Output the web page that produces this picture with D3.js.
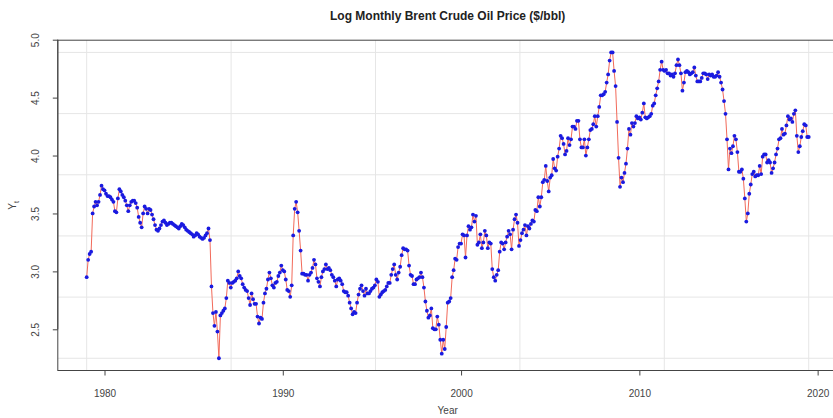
<!DOCTYPE html>
<html>
<head>
<meta charset="utf-8">
<script src="https://cdn.jsdelivr.net/npm/d3@7"></script>
<style>
  body { margin: 0; background: #fff; }
  text { font-family: "Liberation Sans", Arial, sans-serif; }
</style>
</head>
<body>
<svg id="chart" width="833" height="418"></svg>
<script>
// log of monthly Brent price, Jan 1979 onwards
var startYear = 1979;
var logPrice1979 = [
  2.95, 3.10, 3.15, 3.17, 3.50, 3.56, 3.60, 3.57, 3.60, 3.66, 3.74, 3.71,
  3.70, 3.67, 3.65, 3.65, 3.64, 3.62, 3.60, 3.52, 3.51, 3.63, 3.71, 3.69,
  3.66, 3.64, 3.61, 3.57, 3.52, 3.57, 3.60, 3.61, 3.61, 3.59, 3.55, 3.47,
  3.42, 3.38, 3.50, 3.56, 3.54, 3.50, 3.54, 3.53, 3.49, 3.45, 3.40, 3.36,
  3.35, 3.37, 3.40, 3.43, 3.44, 3.42, 3.40, 3.41, 3.42, 3.42, 3.41, 3.40,
  3.39, 3.38, 3.37, 3.39, 3.41, 3.40, 3.38, 3.36, 3.35, 3.34, 3.33, 3.32,
  3.30, 3.31, 3.33, 3.32, 3.30, 3.29, 3.28, 3.29, 3.31, 3.33, 3.37, 3.27,
  2.87, 2.64, 2.53, 2.65, 2.48, 2.25, 2.62, 2.64, 2.66, 2.68, 2.77, 2.92,
  2.90, 2.86, 2.90, 2.91, 2.92, 2.94, 3.00, 2.96, 2.94, 2.89, 2.86, 2.84,
  2.83, 2.77, 2.71, 2.81, 2.76, 2.72, 2.72, 2.61, 2.55, 2.60, 2.59, 2.73
];
var logPrice1989 = [
  2.81, 2.85, 2.93, 2.99, 2.94, 2.88, 2.86, 2.90, 2.91, 2.96, 2.99, 3.05,
  3.01, 3.00, 2.93, 2.84, 2.83, 2.78, 2.88, 3.31, 3.54, 3.60, 3.51, 3.35,
  3.18, 2.98, 2.98, 2.97, 2.97, 2.92, 2.97, 2.99, 3.03, 3.10, 3.06, 2.94,
  2.91, 2.87, 2.95, 3.00, 3.02, 3.06, 3.02, 3.03, 3.01, 2.97, 2.95, 2.92,
  2.87, 2.93, 2.94, 2.92, 2.89, 2.83, 2.82, 2.82, 2.79, 2.73, 2.68, 2.63,
  2.65, 2.64, 2.73, 2.80, 2.85, 2.88, 2.83, 2.79, 2.85, 2.81, 2.81, 2.83,
  2.85, 2.86, 2.88, 2.93, 2.91, 2.78, 2.80, 2.82, 2.83, 2.84, 2.87, 2.90,
  2.90, 2.97, 3.02, 3.06, 2.97, 2.93, 2.99, 3.04, 3.14, 3.20, 3.19, 3.19,
  3.18, 3.05, 2.97, 2.96, 2.89, 2.89, 2.93, 2.94, 2.95, 2.99, 2.95, 2.86,
  2.74, 2.66, 2.60, 2.62, 2.68, 2.51, 2.50, 2.50, 2.61, 2.54, 2.41, 2.29
];
var logPrice1999 = [
  2.41, 2.33, 2.52, 2.73, 2.74, 2.77, 2.95, 3.01, 3.11, 3.10, 3.21, 3.24,
  3.24, 3.32, 3.31, 3.12, 3.31, 3.39, 3.36, 3.38, 3.49, 3.43, 3.48, 3.23,
  3.25, 3.32, 3.20, 3.25, 3.35, 3.31, 3.20, 3.25, 3.24, 3.02, 2.95, 2.92,
  2.97, 3.01, 3.17, 3.25, 3.24, 3.19, 3.25, 3.30, 3.35, 3.32, 3.19, 3.36,
  3.45, 3.49, 3.42, 3.22, 3.27, 3.33, 3.36, 3.40, 3.31, 3.39, 3.37, 3.41,
  3.44, 3.43, 3.53, 3.52, 3.64, 3.56, 3.64, 3.77, 3.79, 3.91, 3.78, 3.69,
  3.81, 3.83, 3.97, 3.89, 3.87, 3.99, 4.06, 4.17, 4.15, 4.10, 4.01, 4.04,
  4.15, 4.09, 4.14, 4.25, 4.25, 4.23, 4.30, 4.30, 4.14, 4.07, 4.07, 4.14,
  4.00, 4.07, 4.14, 4.22, 4.23, 4.27, 4.34, 4.25, 4.34, 4.42, 4.52, 4.52,
  4.53, 4.55, 4.63, 4.70, 4.82, 4.89, 4.89, 4.73, 4.60, 4.29, 3.98, 3.73
];
var logPrice2009 = [
  3.81, 3.77, 3.85, 3.93, 4.06, 4.23, 4.18, 4.28, 4.25, 4.28, 4.34, 4.32,
  4.33, 4.31, 4.37, 4.45, 4.33, 4.32, 4.33, 4.34, 4.36, 4.43, 4.45, 4.52,
  4.58, 4.64, 4.74, 4.81, 4.74, 4.73, 4.74, 4.71, 4.71, 4.69, 4.70, 4.68,
  4.71, 4.78, 4.83, 4.78, 4.71, 4.56, 4.63, 4.72, 4.73, 4.72, 4.70, 4.71,
  4.72, 4.76, 4.69, 4.64, 4.64, 4.64, 4.67, 4.71, 4.71, 4.70, 4.66, 4.70,
  4.69, 4.70, 4.68, 4.68, 4.69, 4.72, 4.68, 4.63, 4.57, 4.47, 4.36, 4.14,
  3.88, 4.06, 4.02, 4.08, 4.17, 4.14, 4.03, 3.86, 3.86, 3.88, 3.80, 3.63,
  3.43, 3.50, 3.67, 3.75, 3.84, 3.86, 3.82, 3.83, 3.83, 3.91, 3.84, 3.99,
  4.01, 4.01, 3.94, 3.96, 3.94, 3.85, 3.89, 3.94, 4.01, 4.06, 4.14, 4.15,
  4.23, 4.18, 4.19, 4.26, 4.34, 4.31, 4.32, 4.29, 4.36, 4.39, 4.17, 4.03,
  4.08, 4.16, 4.21, 4.27, 4.26, 4.16, 4.16
];

var xTicks = [1980, 1990, 2000, 2010, 2020];
var yTicks = [2.5, 3.0, 3.5, 4.0, 4.5, 5.0];
var title = "Log Monthly Brent Crude Oil Price ($/bbl)";

var values = logPrice1979.concat(logPrice1989, logPrice1999, logPrice2009);
var data = values.map(function(v, i) { return {t: startYear + i / 12, y: v}; });

var svg = d3.select("#chart");
svg.append("rect").attr("width", 833).attr("height", 418).attr("fill", "#fff");

// R style: axis range = data range +/- 4%
var tExt = d3.extent(data, function(d) { return d.t; });
var yExt = d3.extent(data, function(d) { return d.y; });
var padT = (tExt[1] - tExt[0]) * 0.04,
    padY = (yExt[1] - yExt[0]) * 0.04;

var x = d3.scaleLinear().domain([tExt[0] - padT, tExt[1] + padT]).range([57.8, 837.6]);
var y = d3.scaleLinear().domain([yExt[0] - padY, yExt[1] + padY]).range([370.5, 40.2]);

// grid splits the data range in 5
var gx = d3.range(6).map(function(k) { return tExt[0] + k * (tExt[1] - tExt[0]) / 5; });
var gy = d3.range(6).map(function(k) { return yExt[0] + k * (yExt[1] - yExt[0]) / 5; });

var grid = svg.append("g").attr("stroke", "#e6e6e6").attr("stroke-width", 1);
grid.selectAll(".gx").data(gx).enter().append("line")
    .attr("x1", function(d) { return x(d); }).attr("x2", function(d) { return x(d); })
    .attr("y1", y.range()[0]).attr("y2", y.range()[1]);
grid.selectAll(".gy").data(gy).enter().append("line")
    .attr("y1", function(d) { return y(d); }).attr("y2", function(d) { return y(d); })
    .attr("x1", x.range()[0]).attr("x2", x.range()[1]);

var line = d3.line().x(function(d) { return x(d.t); }).y(function(d) { return y(d.y); });
svg.append("path").datum(data)
    .attr("d", line)
    .attr("fill", "none")
    .attr("stroke", "#f26a5a")
    .attr("stroke-width", 1);

svg.append("g").selectAll("circle").data(data).enter().append("circle")
    .attr("cx", function(d) { return x(d.t); })
    .attr("cy", function(d) { return y(d.y); })
    .attr("r", 1.9)
    .attr("fill", "#1a1ae0");

// box
svg.append("rect")
    .attr("x", x.range()[0]).attr("y", y.range()[1])
    .attr("width", x.range()[1] - x.range()[0])
    .attr("height", y.range()[0] - y.range()[1])
    .attr("fill", "none").attr("stroke", "#444").attr("stroke-width", 1);

var xAxis = svg.append("g")
    .attr("transform", "translate(0," + y.range()[0] + ")")
    .call(d3.axisBottom(x).tickValues(xTicks).tickSize(5).tickFormat(d3.format("d")));
xAxis.select(".domain").attr("d", "M" + x(xTicks[0]) + ",0H" + x(xTicks[xTicks.length - 1]));
xAxis.selectAll("line, .domain").attr("stroke", "#444");
xAxis.selectAll("text").attr("y", 19).attr("font-size", 10).attr("fill", "#444")
    .attr("font-family", "Liberation Sans, Arial, sans-serif");

var yAxis = svg.append("g")
    .attr("transform", "translate(" + x.range()[0] + ",0)")
    .call(d3.axisLeft(y).tickValues(yTicks).tickSize(5).tickFormat(d3.format(".1f")));
yAxis.select(".domain").attr("d", "M0," + y(yTicks[0]) + "V" + y(yTicks[yTicks.length - 1]));
yAxis.selectAll("line, .domain").attr("stroke", "#444");
yAxis.selectAll("text")
    .attr("x", 0).attr("dy", 0)
    .attr("transform", "translate(-19,0) rotate(-90)")
    .attr("text-anchor", "middle")
    .attr("font-size", 10).attr("fill", "#444")
    .attr("font-family", "Liberation Sans, Arial, sans-serif");

svg.append("text")
    .attr("x", (x.range()[0] + x.range()[1]) / 2).attr("y", 20)
    .attr("text-anchor", "middle")
    .attr("font-size", 12).attr("font-weight", "bold").attr("fill", "#222")
    .text(title);

svg.append("text")
    .attr("x", (x.range()[0] + x.range()[1]) / 2).attr("y", 414)
    .attr("text-anchor", "middle")
    .attr("font-size", 10).attr("fill", "#444")
    .text("Year");

var yl = svg.append("text")
    .attr("transform", "translate(16," + (y.range()[0] + y.range()[1]) / 2 + ") rotate(-90)")
    .attr("text-anchor", "middle")
    .attr("font-size", 10).attr("fill", "#444");
yl.append("tspan").text("Y");
yl.append("tspan").attr("font-size", 7).attr("dy", 3).text("t");
</script>
</body>
</html>
